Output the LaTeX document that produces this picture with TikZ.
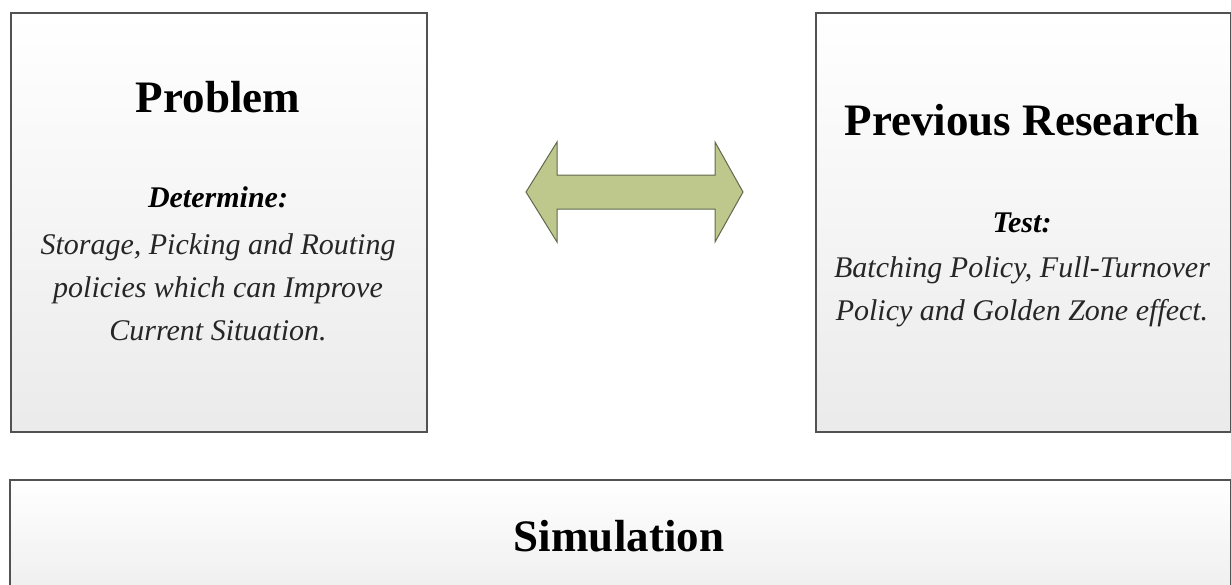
\documentclass[tikz,border=0pt]{standalone}
\usepackage{fontspec}
\setmainfont{Liberation Serif}
\usetikzlibrary{positioning}

\definecolor{arrowfill}{RGB}{190,199,140}
\definecolor{arrowedge}{RGB}{95,105,75}

\begin{document}
\begin{tikzpicture}[
  x=1pt, y=-1pt,
  panel/.style={draw=black!68, line width=1.6pt, top color=white, bottom color=black!8,
    rectangle, inner sep=0pt, anchor=north west},
  heading/.style={font=\fontsize{45}{50}\selectfont\bfseries, anchor=base},
  subhead/.style={font=\fontsize{30}{42}\selectfont\bfseries\itshape, anchor=base},
  bodytext/.style={font=\fontsize{30}{43}\selectfont\itshape, text=black!85,
    align=center, anchor=base},
  ]

  % Frame
  \clip (0,0) rectangle (1231,584);

  % Panels
  \node[panel, minimum width=416pt, minimum height=419pt] (problem) at (10,12) {};
  \node[panel, minimum width=415pt, minimum height=419pt] (research) at (815,12) {};
  \node[panel, minimum width=1221pt, minimum height=140pt] (simulation) at (9,479) {};

  % Problem text (body anchored on its last line)
  \node[heading] (problemtitle) at (218,112) {Problem};
  \node[subhead] (determine) at (218,207) {Determine:};
  \node[bodytext] (problembody) at (218,340)
    {Storage, Picking and Routing\\policies which can Improve\\Current Situation.};

  % Previous research text
  \node[heading] (researchtitle) at (1022,135) {Previous Research};
  \node[subhead] (test) at (1022,232) {Test:};
  \node[bodytext] (researchbody) at (1022,320)
    {Batching Policy, Full-Turnover\\Policy and Golden Zone effect.};

  % Simulation text
  \node[heading] (simtitle) at (619,551) {Simulation};

  % Double arrow
  \draw[fill=arrowfill, draw=arrowedge, line width=1pt, line join=miter]
    (526,192) -- (557,142) -- (557,175) -- (715,175) -- (715,142) -- (743,192)
    -- (715,242) -- (715,209) -- (557,209) -- (557,242) -- cycle;

\end{tikzpicture}
\end{document}
